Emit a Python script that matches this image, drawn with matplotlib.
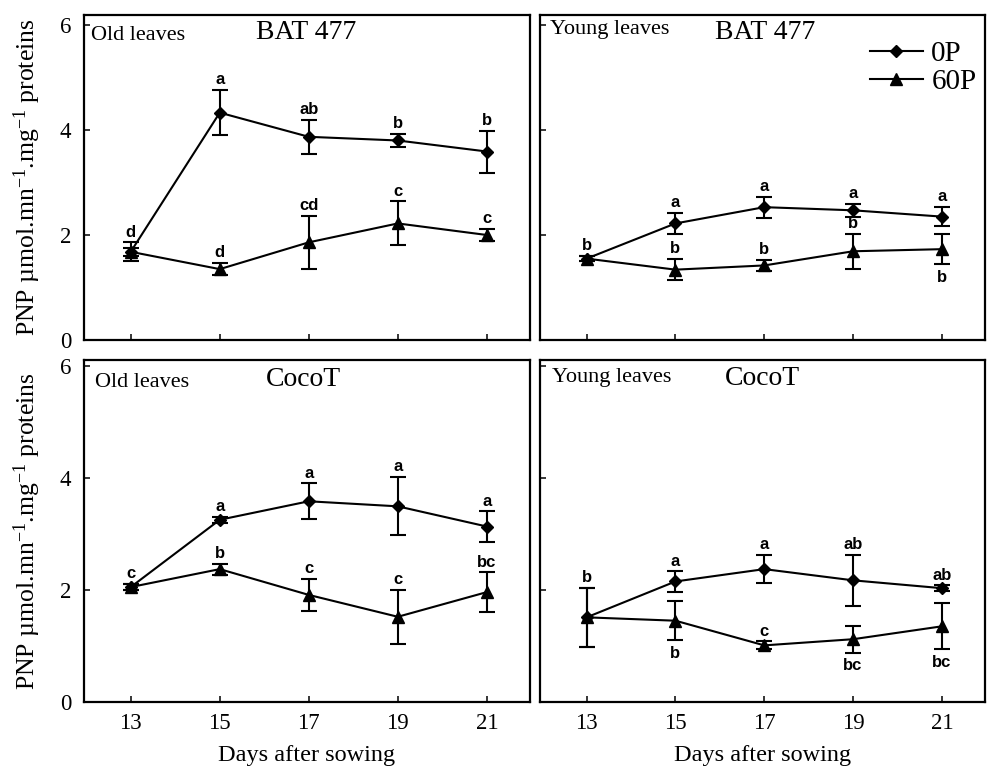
import matplotlib
matplotlib.use('Agg')
import matplotlib.pyplot as plt

plt.rcParams['font.family'] = ['Liberation Serif', 'DejaVu Serif']
plt.rcParams['mathtext.fontset'] = 'custom'
plt.rcParams['mathtext.rm'] = 'Liberation Serif'
plt.rcParams['mathtext.it'] = 'Liberation Serif:italic'

days = [13, 15, 17, 19, 21]
series_names = ['0P', '60P']
panel_leaf = ['Old leaves', 'Young leaves', 'Old leaves', 'Young leaves']
panel_cultivar = ['BAT 477', 'BAT 477', 'CocoT', 'CocoT']
y_ticks = [0, 2, 4, 6]

# BAT 477 - old leaves
bat_old_0p = [1.68, 4.33, 3.87, 3.80, 3.59]
bat_old_0p_err = [0.08, 0.43, 0.32, 0.12, 0.40]
bat_old_0p_let = ['', 'a', 'ab', 'b', 'b']
bat_old_0p_pos = ['above', 'above', 'above', 'above', 'above']
bat_old_60p = [1.68, 1.35, 1.86, 2.22, 2.00]
bat_old_60p_err = [0.18, 0.12, 0.50, 0.42, 0.11]
bat_old_60p_let = ['d', 'd', 'cd', 'c', 'c']
bat_old_60p_pos = ['above', 'above', 'above', 'above', 'above']

# BAT 477 - young leaves
bat_young_0p = [1.55, 2.22, 2.53, 2.47, 2.35]
bat_young_0p_err = [0.05, 0.20, 0.20, 0.12, 0.18]
bat_young_0p_let = ['b', 'a', 'a', 'a', 'a']
bat_young_0p_pos = ['above', 'above', 'above', 'above', 'above']
bat_young_60p = [1.55, 1.34, 1.42, 1.69, 1.73]
bat_young_60p_err = [0.05, 0.20, 0.11, 0.33, 0.29]
bat_young_60p_let = ['', 'b', 'b', 'b', 'b']
bat_young_60p_pos = ['above', 'above', 'above', 'above', 'below']

# CocoT - old leaves
coco_old_0p = [2.05, 3.25, 3.58, 3.49, 3.13]
coco_old_0p_err = [0.05, 0.05, 0.32, 0.52, 0.27]
coco_old_0p_let = ['c', 'a', 'a', 'a', 'a']
coco_old_0p_pos = ['above', 'above', 'above', 'above', 'above']
coco_old_60p = [2.05, 2.37, 1.91, 1.52, 1.96]
coco_old_60p_err = [0.05, 0.10, 0.29, 0.48, 0.35]
coco_old_60p_let = ['', 'b', 'c', 'c', 'bc']
coco_old_60p_pos = ['above', 'above', 'above', 'above', 'above']

# CocoT - young leaves
coco_young_0p = [1.51, 2.15, 2.37, 2.17, 2.03]
coco_young_0p_err = [0.53, 0.18, 0.25, 0.46, 0.05]
coco_young_0p_let = ['b', 'a', 'a', 'ab', 'ab']
coco_young_0p_pos = ['above', 'above', 'above', 'above', 'above']
coco_young_60p = [1.51, 1.45, 1.01, 1.12, 1.35]
coco_young_60p_err = [0.53, 0.35, 0.07, 0.24, 0.41]
coco_young_60p_let = ['', 'b', 'c', 'bc', 'bc']
coco_young_60p_pos = ['above', 'below', 'above', 'below', 'below']

panels = [
    (bat_old_0p, bat_old_0p_err, bat_old_0p_let, bat_old_0p_pos,
     bat_old_60p, bat_old_60p_err, bat_old_60p_let, bat_old_60p_pos),
    (bat_young_0p, bat_young_0p_err, bat_young_0p_let, bat_young_0p_pos,
     bat_young_60p, bat_young_60p_err, bat_young_60p_let, bat_young_60p_pos),
    (coco_old_0p, coco_old_0p_err, coco_old_0p_let, coco_old_0p_pos,
     coco_old_60p, coco_old_60p_err, coco_old_60p_let, coco_old_60p_pos),
    (coco_young_0p, coco_young_0p_err, coco_young_0p_let, coco_young_0p_pos,
     coco_young_60p, coco_young_60p_err, coco_young_60p_let, coco_young_60p_pos),
]

W, H = 990, 767
fig = plt.figure(figsize=(W / 100, H / 100), dpi=100)
rects_px = [(84, 15, 530, 340), (540, 15, 985, 340),
            (84, 360, 530, 702), (540, 360, 985, 702)]
ylims = [6.19, 6.19, 6.1, 6.1]
leaf_xy = [(0.015, 0.938), (0.022, 0.954), (0.025, 0.934), (0.027, 0.950)]
cult_xy = [(0.498, 0.945), (0.506, 0.945), (0.491, 0.944), (0.499, 0.947)]

letter_font = dict(family=['Liberation Sans', 'DejaVu Sans'], fontsize=12,
                   fontweight='bold', ha='center')

for i, (rect, data) in enumerate(zip(rects_px, panels)):
    x0, y0, x1, y1 = rect
    ax = fig.add_axes([x0 / W, 1 - y1 / H, (x1 - x0) / W, (y1 - y0) / H])
    v0, e0, l0, p0, v1, e1, l1, p1 = data
    eb0 = ax.errorbar(days, v0, yerr=e0, color='black', marker='D', markersize=6.5,
                      lw=1.5, elinewidth=1.5, capsize=5.5, capthick=1.5,
                      label=series_names[0], zorder=3)
    eb1 = ax.errorbar(days, v1, yerr=e1, color='black', marker='^', markersize=9,
                      lw=1.5, elinewidth=1.5, capsize=5.5, capthick=1.5,
                      label=series_names[1], zorder=3)
    for vals, errs, lets, poss in ((v0, e0, l0, p0), (v1, e1, l1, p1)):
        for d, v, e, t, p in zip(days, vals, errs, lets, poss):
            if not t:
                continue
            if p == 'above':
                ax.annotate(t, (d, v + e), xytext=(0, 2), textcoords='offset points',
                            va='bottom', **letter_font)
            else:
                ax.annotate(t, (d, v - e), xytext=(0, -4), textcoords='offset points',
                            va='top', **letter_font)
    ax.set_xlim(11.95, 21.97)
    ax.set_ylim(0, ylims[i])
    ax.set_yticks(y_ticks)
    ax.set_xticks(days)
    for s in ax.spines.values():
        s.set_linewidth(1.6)
    ax.tick_params(direction='in', length=4, width=1.1, labelsize=16.5,
                   top=False, right=False)
    ax.tick_params(axis='y', pad=9)
    ax.tick_params(axis='x', pad=8)
    if i % 2 == 1:
        ax.set_yticklabels([])
    else:
        ax.set_ylabel(r'PNP µmol.mn$^{-1}$.mg$^{-1}$ proteins', fontsize=18.5,
                      labelpad=12)
    if i < 2:
        ax.set_xticklabels([])
    else:
        ax.set_xlabel('Days after sowing', fontsize=17.5, labelpad=8)
    ax.text(leaf_xy[i][0], leaf_xy[i][1], panel_leaf[i], transform=ax.transAxes,
            fontsize=16, ha='left', va='center')
    ax.text(cult_xy[i][0], cult_xy[i][1], panel_cultivar[i], transform=ax.transAxes,
            fontsize=20, ha='center', va='center')
    if i == 1:
        ax.legend(handles=[eb0.lines[0], eb1.lines[0]], labels=series_names,
                  loc='upper right', bbox_to_anchor=(1.02, 0.975), frameon=False,
                  fontsize=21, handlelength=1.8, handletextpad=0.3,
                  labelspacing=0.05, borderaxespad=0.2)

fig.savefig('out.png', dpi=100)
